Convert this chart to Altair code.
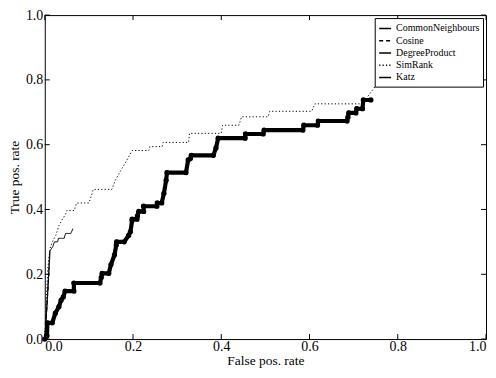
import altair as alt
import pandas as pd

# ---- data ----
series_order = ["CommonNeighbours", "Cosine", "DegreeProduct", "SimRank", "Katz"]

cn_x = [0.0, 0.004, 0.009, 0.012]
cn_y = [0.0, 0.08, 0.20, 0.27]

cos_x = [0.0, 0.006, 0.010]
cos_y = [0.0, 0.12, 0.22]

dp_x = [0.0, 0.005, 0.006, 0.017, 0.024, 0.032, 0.037, 0.042, 0.046, 0.066, 0.066, 0.125,
        0.128, 0.130, 0.145, 0.150, 0.158, 0.162, 0.163, 0.180, 0.190, 0.194, 0.198, 0.198,
        0.209, 0.210, 0.213, 0.224, 0.224, 0.254, 0.255, 0.265, 0.270, 0.275, 0.277, 0.320,
        0.325, 0.330, 0.332, 0.382, 0.388, 0.393, 0.454, 0.455, 0.495, 0.497, 0.585, 0.587,
        0.618, 0.620, 0.685, 0.687, 0.689, 0.705, 0.707, 0.720, 0.722, 0.739]
dp_y = [0.0, 0.010, 0.050, 0.050, 0.080, 0.100, 0.120, 0.130, 0.148, 0.148, 0.173, 0.173,
        0.190, 0.203, 0.203, 0.230, 0.260, 0.290, 0.300, 0.300, 0.320, 0.331, 0.366, 0.370,
        0.370, 0.380, 0.394, 0.394, 0.410, 0.410, 0.420, 0.420, 0.450, 0.490, 0.514, 0.514,
        0.553, 0.557, 0.567, 0.567, 0.590, 0.620, 0.620, 0.633, 0.633, 0.645, 0.645, 0.660,
        0.660, 0.673, 0.673, 0.685, 0.698, 0.698, 0.711, 0.711, 0.738, 0.738]

sr_x = [0.0, 0.003, 0.007, 0.012, 0.017, 0.025, 0.032, 0.040, 0.047, 0.050, 0.067, 0.072,
        0.100, 0.105, 0.110, 0.152, 0.160, 0.175, 0.186, 0.198, 0.236, 0.238, 0.266, 0.268,
        0.326, 0.328, 0.400, 0.403, 0.440, 0.446, 0.506, 0.510, 0.605, 0.612, 0.720, 0.752]
sr_y = [0.0, 0.100, 0.220, 0.280, 0.300, 0.320, 0.350, 0.370, 0.385, 0.397, 0.397, 0.420,
        0.420, 0.440, 0.462, 0.462, 0.490, 0.527, 0.552, 0.582, 0.582, 0.594, 0.594, 0.607,
        0.607, 0.635, 0.635, 0.660, 0.660, 0.686, 0.686, 0.703, 0.703, 0.726, 0.726, 0.786]

katz_x = [0.0, 0.003, 0.008, 0.011, 0.018, 0.022, 0.029, 0.031, 0.044, 0.047, 0.059, 0.064]
katz_y = [0.0, 0.06, 0.18, 0.27, 0.285, 0.300, 0.300, 0.311, 0.311, 0.326, 0.326, 0.341]

tick_vals = [0.0, 0.2, 0.4, 0.6, 0.8, 1.0]

# ---- build tables ----
rows = []
for name, xs, ys in [("CommonNeighbours", cn_x, cn_y), ("Cosine", cos_x, cos_y),
                     ("DegreeProduct", dp_x, dp_y), ("SimRank", sr_x, sr_y),
                     ("Katz", katz_x, katz_y)]:
    for i, (a, b) in enumerate(zip(xs, ys)):
        rows.append({"series": name, "x": a, "y": b, "i": i})
df = pd.DataFrame(rows)
dp_df = df[df.series == "DegreeProduct"]
ticks_df = pd.DataFrame({"x": tick_vals, "y": tick_vals})

W, H = 444, 326
FONT = "Liberation Serif"

x_enc = alt.X("x:Q", title="False pos. rate",
              scale=alt.Scale(domain=[0, 1], nice=False, zero=False),
              axis=alt.Axis(values=tick_vals, format=".1f"))
y_enc = alt.Y("y:Q", title="True pos. rate",
              scale=alt.Scale(domain=[0, 1], nice=False, zero=False),
              axis=alt.Axis(values=tick_vals, format=".1f"))

legend = alt.Legend(title=None, orient="top-right", offset=3, symbolType="stroke",
                    symbolSize=144, symbolStrokeWidth=1.5, labelFont=FONT,
                    labelFontSize=10, labelColor="black", fillColor="white",
                    strokeColor="black", padding=3.5, rowPadding=0.3, labelOffset=4,
                    symbolStrokeColor="black")

lines = alt.Chart(df).mark_line(strokeWidth=1).encode(
    x=x_enc, y=y_enc,
    color=alt.Color("series:N", scale=alt.Scale(domain=series_order, range=["black"] * 5),
                    legend=legend),
    strokeDash=alt.StrokeDash("series:N",
                              scale=alt.Scale(domain=series_order,
                                              range=[[1, 0], [4, 3], [1, 0], [1.2, 2.2], [1, 0]]),
                              legend=legend),
    order="i:Q",
)

dp_thick = alt.Chart(dp_df).mark_line(strokeWidth=4.2, color="black").encode(
    x=x_enc, y=y_enc, order="i:Q")
dp_pts = alt.Chart(dp_df).mark_circle(size=28, color="black", opacity=1).encode(
    x=x_enc, y=y_enc)

tb = alt.Chart(ticks_df).mark_rule(color="black", strokeWidth=1).encode(
    x=x_enc, y=alt.value(H), y2=alt.value(H - 5))
tt = alt.Chart(ticks_df).mark_rule(color="black", strokeWidth=1).encode(
    x=x_enc, y=alt.value(0), y2=alt.value(5))
tl = alt.Chart(ticks_df).mark_rule(color="black", strokeWidth=1).encode(
    y=y_enc, x=alt.value(0), x2=alt.value(5))
tr = alt.Chart(ticks_df).mark_rule(color="black", strokeWidth=1).encode(
    y=y_enc, x=alt.value(W), x2=alt.value(W - 5))

chart = alt.layer(lines, dp_thick, dp_pts, tb, tt, tl, tr).properties(
    width=W, height=H,
    autosize=alt.AutoSizeParams(type="none"),
    padding={"left": 37, "top": 6, "right": 2, "bottom": 30},
).configure_view(stroke="black", strokeWidth=1).configure_axis(
    domain=False, ticks=False, grid=False,
    labelFont=FONT, labelFontSize=14, labelColor="black",
    titleFont=FONT, titleFontSize=13.5, titleFontWeight="normal", titleColor="black",
).configure_axisX(titlePadding=0, labelPadding=1).configure_axisY(
    titlePadding=4, labelPadding=2
).configure_legend(labelFont=FONT, labelFontSize=10, labelColor="black")

chart.save("out.html", embed_options={"renderer": "svg", "actions": False})
